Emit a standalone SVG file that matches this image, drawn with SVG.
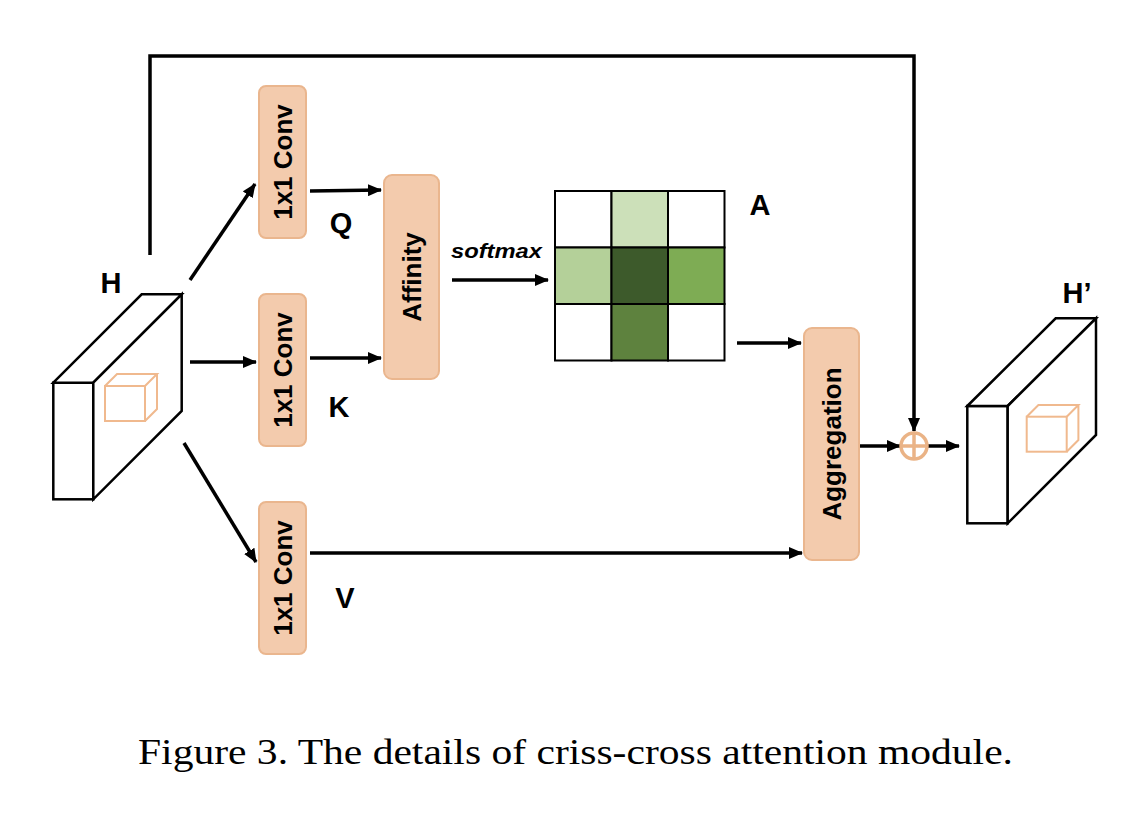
<svg xmlns="http://www.w3.org/2000/svg" width="1142" height="832" viewBox="0 0 1142 832">
<defs>
<marker id="ah" markerUnits="userSpaceOnUse" markerWidth="14" markerHeight="12" refX="13" refY="6" orient="auto">
<path d="M0,0 L14,6 L0,12 Z" fill="#000"/>
</marker>
<style>
.box{fill:#f3cbad;stroke:#eab68e;stroke-width:2}
.lbl{font-family:"Liberation Sans",Arial,sans-serif;font-weight:bold;font-size:26px;fill:#000;text-anchor:middle}
.big{font-family:"Liberation Sans",Arial,sans-serif;font-weight:bold;font-size:29px;fill:#000;text-anchor:middle}
.cube{fill:#fff;stroke:#000;stroke-width:2.5;stroke-linejoin:miter}
.mini{fill:none;stroke:#f0b98e;stroke-width:2}
.conn{fill:none;stroke:#000;stroke-width:3.5}
.cell{stroke:#000;stroke-width:2}
</style>
</defs>
<rect width="1142" height="832" fill="#fff"/>

<g id="connectors">
<path class="conn" d="M150,255 V56 H914 V431" marker-end="url(#ah)"/>
<line class="conn" x1="190" y1="280" x2="255" y2="184" marker-end="url(#ah)"/>
<line class="conn" x1="190" y1="362" x2="256" y2="362" marker-end="url(#ah)"/>
<line class="conn" x1="184" y1="443" x2="256" y2="562" marker-end="url(#ah)"/>
<line class="conn" x1="310" y1="191" x2="381" y2="190" marker-end="url(#ah)"/>
<line class="conn" x1="310" y1="358" x2="381" y2="358" marker-end="url(#ah)"/>
<line class="conn" x1="452" y1="280" x2="548" y2="280" marker-end="url(#ah)"/>
<line class="conn" x1="737" y1="343" x2="801" y2="343" marker-end="url(#ah)"/>
<line class="conn" x1="310" y1="553" x2="802" y2="553" marker-end="url(#ah)"/>
<line class="conn" x1="859" y1="446" x2="900" y2="446" marker-end="url(#ah)"/>
<line class="conn" x1="928" y1="446" x2="959" y2="446" marker-end="url(#ah)"/>
</g>

<g id="H">
<rect class="cube" x="53.3" y="382.7" width="40" height="116.6"/>
<path class="cube" d="M53.3,382.7 L141.7,294.3 L181.7,294.3 L93.3,382.7 Z"/>
<path class="cube" d="M93.3,382.7 L181.7,294.3 L181.7,411 L93.3,499.3 Z"/>
<rect class="mini" x="105" y="386" width="40" height="35"/>
<path class="mini" d="M105,386 L117,374 L157,374 L145,386 M157,374 V409 L145,421"/>
<text class="big" x="111" y="293">H</text>
</g>

<g id="convQ">
<rect class="box" x="259" y="86" width="47" height="152" rx="7"/>
<text class="lbl" transform="translate(282.5,162) rotate(-90)" y="9">1x1 Conv</text>
</g>
<g id="convK">
<rect class="box" x="259" y="294" width="47" height="152" rx="7"/>
<text class="lbl" transform="translate(282.5,370) rotate(-90)" y="9">1x1 Conv</text>
</g>
<g id="convV">
<rect class="box" x="259" y="502" width="47" height="152" rx="7"/>
<text class="lbl" transform="translate(282.5,578) rotate(-90)" y="9">1x1 Conv</text>
</g>

<text class="big" x="341" y="233">Q</text>
<text class="big" x="339" y="417">K</text>
<text class="big" x="345" y="608">V</text>

<g id="affinity">
<rect class="box" x="384" y="175" width="55" height="204" rx="8"/>
<text class="lbl" transform="translate(411.5,277) rotate(-90)" y="9">Affinity</text>
</g>

<text x="451" y="258" font-family="'Liberation Sans',Arial,sans-serif" font-weight="bold" font-style="italic" font-size="21" textLength="91" lengthAdjust="spacingAndGlyphs">softmax</text>

<g id="A">
<rect class="cell" x="555" y="191" width="56.5" height="56.5" fill="#fff"/>
<rect class="cell" x="611.5" y="191" width="56.5" height="56.5" fill="#cce0b9"/>
<rect class="cell" x="668" y="191" width="56.5" height="56.5" fill="#fff"/>
<rect class="cell" x="555" y="247.5" width="56.5" height="56.5" fill="#b4d099"/>
<rect class="cell" x="611.5" y="247.5" width="56.5" height="56.5" fill="#3d5a2b"/>
<rect class="cell" x="668" y="247.5" width="56.5" height="56.5" fill="#7eac54"/>
<rect class="cell" x="555" y="304" width="56.5" height="56.5" fill="#fff"/>
<rect class="cell" x="611.5" y="304" width="56.5" height="56.5" fill="#5e823e"/>
<rect class="cell" x="668" y="304" width="56.5" height="56.5" fill="#fff"/>
<text class="big" x="760" y="215">A</text>
</g>

<g id="aggregation">
<rect class="box" x="804" y="328" width="55" height="232" rx="8"/>
<text class="lbl" transform="translate(831.5,444) rotate(-90)" y="9">Aggregation</text>
</g>

<g id="plus">
<circle cx="914" cy="446" r="13" fill="#fff" stroke="#eab386" stroke-width="3.5"/>
<path d="M901,446 H927 M914,433 V459" stroke="#eab386" stroke-width="3.5"/>
</g>

<g id="Hprime">
<rect class="cube" x="967.3" y="406" width="40.4" height="117.3"/>
<path class="cube" d="M967.3,406 L1055.7,318.3 L1096,318.3 L1007.7,406 Z"/>
<path class="cube" d="M1007.7,406 L1096,318.3 L1096,435 L1007.7,523.3 Z"/>
<rect class="mini" x="1026.7" y="416.7" width="40" height="35"/>
<path class="mini" d="M1026.7,416.7 L1038.4,405 L1078.4,405 L1066.7,416.7 M1078.4,405 V440 L1066.7,451.7"/>
<text class="big" x="1077" y="303">H’</text>
</g>

<text x="138" y="764" font-family="'Liberation Serif','Times New Roman',serif" font-size="36" textLength="875" lengthAdjust="spacingAndGlyphs">Figure 3. The details of criss-cross attention module.</text>
</svg>
